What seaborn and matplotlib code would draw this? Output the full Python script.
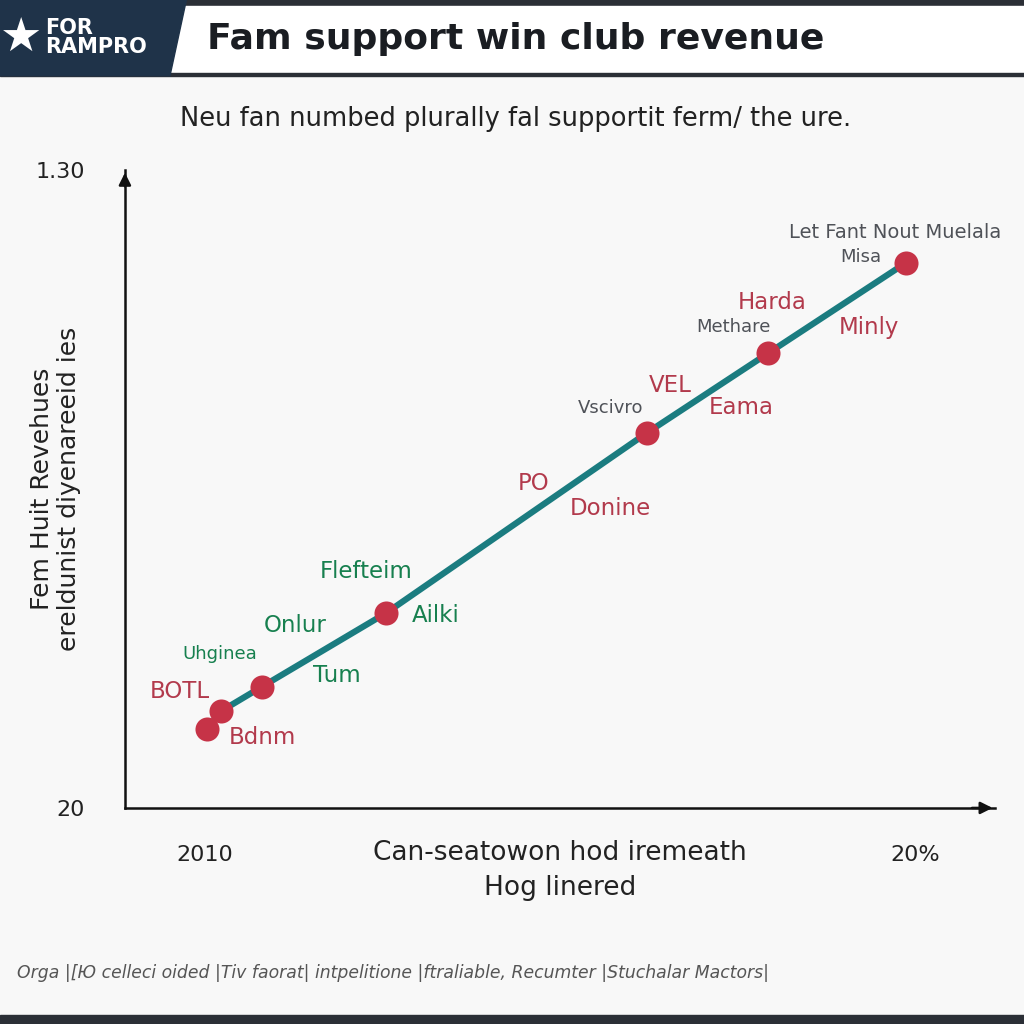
import numpy as np
import pandas as pd
import seaborn as sns
import matplotlib.pyplot as plt
from matplotlib.patches import Polygon, Rectangle

# data
x_vals = [1.79, 2.10, 2.99, 5.70, 11.40, 14.04, 17.05]
y_vals = [33.6, 36.7, 40.9, 53.6, 84.7, 98.4, 114.0]

x_ticks = [1.75, 17.25]
x_tick_labels = ["2010", "20%"]
y_ticks = [20, 72.2, 130]
y_tick_labels = ["20", "", "1.30"]

labels_red = ["BOTL", "Bdnm", "PO", "Donine", "VEL", "Eama", "Harda", "Minly"]
labels_green = ["Uhginea", "Onlur", "Tum", "Flefteim", "Ailki"]
labels_gray = ["Vscivro", "Methare", "Misa", "Let Fant Nout Muelala"]

title = "Fam support win club revenue"
subtitle = "Neu fan numbed plurally fal supportit ferm/ the ure."
footer = "Orga |[Ю celleci oided |Tiv faorat| intpelitione |ftraliable, Recumter |Stuchalar Mactors|"

df = pd.DataFrame({"x": x_vals, "y": y_vals})

sns.set_style("white")
plt.rcParams['font.family'] = ['DejaVu Sans']

fig = plt.figure(figsize=(10.24, 10.24), dpi=100)
fig.patch.set_facecolor("#f8f8f8")

# header band
fig.patches.append(Rectangle((0, 0.993), 1, 0.007, transform=fig.transFigure, color="#2b2f36", zorder=0))
fig.patches.append(Rectangle((0.165, 0.928), 0.835, 0.066, transform=fig.transFigure, color="white", zorder=0))
fig.patches.append(Rectangle((0, 0.926), 1, 0.003, transform=fig.transFigure, color="#2b2f36", zorder=0))
fig.patches.append(Polygon([(0, 0.926), (0, 1), (0.182, 1), (0.166, 0.926)], closed=True,
                           transform=fig.transFigure, color="#1f3349", zorder=1))
fig.patches.append(Rectangle((0, 0), 1, 0.009, transform=fig.transFigure, color="#2b2f36", zorder=0))

fig.text(0.021, 0.962, "\u2605", color="white", fontsize=34, ha="center", va="center")
fig.text(0.044, 0.963, "FOR\nRAMPRO", color="white", fontsize=15, fontweight="bold",
         ha="left", va="center", linespacing=0.95)
fig.text(0.202, 0.962, title, color="#1a1d22", fontsize=26, fontweight="bold", ha="left", va="center")
fig.text(0.503, 0.884, subtitle, color="#222222", fontsize=18.5, ha="center", va="center")
fig.text(0.017, 0.050, footer, color="#555555", fontsize=12.4, style="italic", ha="left", va="center")

ax = fig.add_axes([0.122, 0.211, 0.85, 0.623])
ax.set_facecolor("#f8f8f8")

sns.lineplot(data=df, x="x", y="y", ax=ax, color="#1b7c80", linewidth=4.5, zorder=2)
sns.scatterplot(data=df, x="x", y="y", ax=ax, color="#c63347", s=300, edgecolor="#c63347",
                linewidth=0, zorder=3)

ax.set_xlim(0, 19)
ax.set_ylim(20, 130)

for s in ["top", "right"]:
    ax.spines[s].set_visible(False)
for s in ["left", "bottom"]:
    ax.spines[s].set_linewidth(1.8)
    ax.spines[s].set_color("#111111")

# arrow heads
ax.annotate("", xy=(0, 1.0), xytext=(0, 0.97), xycoords="axes fraction",
            arrowprops=dict(arrowstyle="-|>", color="#111111", lw=1.8, mutation_scale=18))
ax.annotate("", xy=(1.0, 0), xytext=(0.97, 0), xycoords="axes fraction",
            arrowprops=dict(arrowstyle="-|>", color="#111111", lw=1.8, mutation_scale=18))

ax.set_xticks(x_ticks)
ax.set_xticklabels(x_tick_labels, fontsize=16, color="#222222")
ax.tick_params(axis="x", length=0, pad=27)
ax.set_yticks(y_ticks)
ax.set_yticklabels(y_tick_labels, fontsize=16, color="#222222")
ax.tick_params(axis="y", length=5, width=1.8, pad=24, color="#111111")

ax.set_xlabel("Can-seatowon hod iremeath\nHog linered", fontsize=19, color="#222222", linespacing=1.45)
ax.xaxis.set_label_coords(0.5, -0.05)
ax.set_ylabel("Fem Huit Revehues\nereldunist diyenareeid ies", fontsize=18, color="#222222",
              linespacing=1.2)
ax.yaxis.set_label_coords(-0.05, 0.5)

# point labels
red_pos = [(1.20, 40.0), (3.01, 32.1), (8.91, 75.9), (10.59, 71.7),
           (11.90, 92.9), (13.45, 89.0), (14.13, 107.1), (16.24, 102.9)]
green_pos = [(2.07, 46.6), (3.71, 51.4), (4.63, 42.9), (5.26, 60.7), (6.79, 53.1)]
gray_pos = [(10.61, 89.0), (13.28, 102.9), (16.07, 115.0), (16.81, 119.3)]

for t, (px, py) in zip(labels_red, red_pos):
    ax.text(px, py, t, color="#b23a4c", fontsize=16.5, ha="center", va="center")
for t, (px, py) in zip(labels_green, green_pos):
    fs = 13 if t == "Uhginea" else 16.5
    ax.text(px, py, t, color="#17804f", fontsize=fs, ha="center", va="center")
for t, (px, py) in zip(labels_gray, gray_pos):
    fs = 14 if t.startswith("Let") else 13
    ax.text(px, py, t, color="#4f5258", fontsize=fs, ha="center", va="center")

fig.savefig("out.png", dpi=100, facecolor=fig.get_facecolor())
